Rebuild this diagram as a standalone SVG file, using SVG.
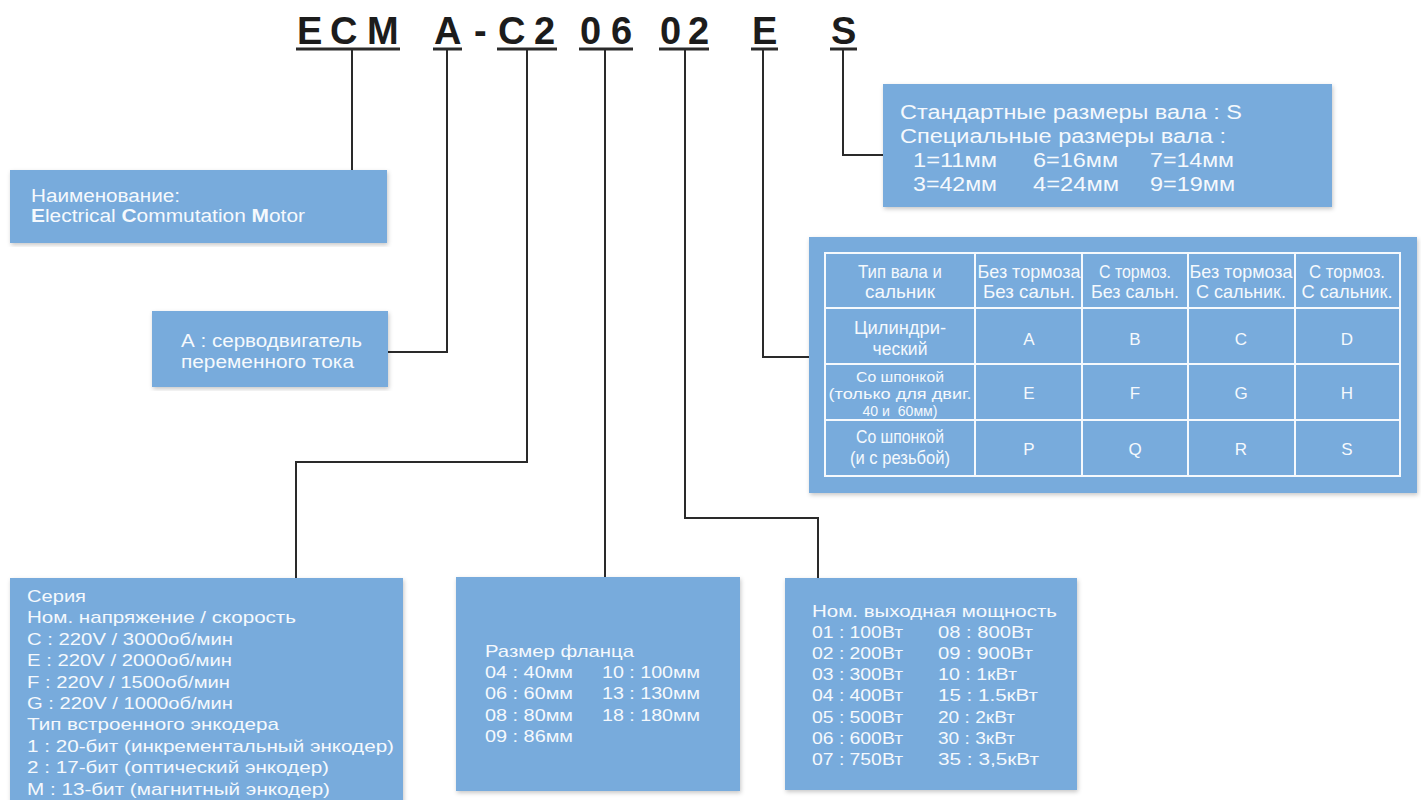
<svg xmlns="http://www.w3.org/2000/svg" width="1421" height="800" viewBox="0 0 1421 800">
<style>
.bg{fill:#ffffff}
.box{fill:#78abdc;filter:url(#sh)}
.t{font-family:"Liberation Sans",Arial,sans-serif;fill:#f5f9fd;font-size:17px}
.ts{font-size:20px}
.tb{font-size:18.5px}
.tr{font-size:15px}
.tl{font-size:17px}
.c{text-anchor:middle}
.code{font-family:"Liberation Sans",Arial,sans-serif;font-weight:bold;font-size:38px;fill:#1c1c1c}
.ul{stroke:#2a2a2a;stroke-width:3}
.con{fill:none;stroke:#2a2a2a;stroke-width:2}
.grid{fill:none;stroke:#f5f9fd;stroke-width:2}
</style>
<defs>
<filter id="sh" x="-5%" y="-5%" width="110%" height="110%">
<feDropShadow dx="1" dy="2" stdDeviation="2" flood-color="#000" flood-opacity="0.22"/>
</filter>
</defs>
<rect class="bg" width="1421" height="800"/>

<g id="code">
<text class="code" y="44"><tspan x="297">E</tspan><tspan x="330">C</tspan><tspan x="367">M</tspan><tspan x="434">A</tspan><tspan x="474">-</tspan><tspan x="498">C</tspan><tspan x="534">2</tspan><tspan x="580">0</tspan><tspan x="611">6</tspan><tspan x="660">0</tspan><tspan x="688">2</tspan><tspan x="752">E</tspan><tspan x="831">S</tspan></text>
<line class="ul" x1="296" y1="49" x2="400" y2="49"/>
<line class="ul" x1="433" y1="49" x2="462" y2="49"/>
<line class="ul" x1="497" y1="49" x2="557" y2="49"/>
<line class="ul" x1="579" y1="49" x2="633" y2="49"/>
<line class="ul" x1="659" y1="49" x2="709" y2="49"/>
<line class="ul" x1="751" y1="49" x2="778" y2="49"/>
<line class="ul" x1="830" y1="49" x2="857" y2="49"/>
</g>

<g id="connectors">
<path class="con" d="M352,50 V170"/>
<path class="con" d="M447,50 V352 H388"/>
<path class="con" d="M527,50 V462 H296 V578"/>
<path class="con" d="M605,50 V577"/>
<path class="con" d="M685,50 V518 H818 V578"/>
<path class="con" d="M763,50 V357 H809"/>
<path class="con" d="M843,50 V155 H883"/>
</g>

<g id="name">
<rect class="box" x="10" y="170" width="377" height="73"/>
<text class="t" x="31" y="202" style="font-size:18px" textLength="149" lengthAdjust="spacingAndGlyphs">Наименование:</text>
<text class="t" x="31" y="222" style="font-size:18px" textLength="274" lengthAdjust="spacingAndGlyphs"><tspan font-weight="bold">E</tspan>lectrical <tspan font-weight="bold">C</tspan>ommutation <tspan font-weight="bold">M</tspan>otor</text>
</g>

<g id="type">
<rect class="box" x="152" y="311" width="236" height="76"/>
<text class="t" x="181" y="347" style="font-size:18px" textLength="181" lengthAdjust="spacingAndGlyphs">А : серводвигатель</text>
<text class="t" x="181" y="368" style="font-size:18px" textLength="173" lengthAdjust="spacingAndGlyphs">переменного тока</text>
</g>

<g id="series">
<rect class="box" x="10" y="578" width="393" height="230"/>
<text class="t" x="27" y="602" textLength="59" lengthAdjust="spacingAndGlyphs">Серия</text>
<text class="t" x="27" y="623" textLength="269" lengthAdjust="spacingAndGlyphs">Ном. напряжение / скорость</text>
<text class="t" x="27" y="645" textLength="206" lengthAdjust="spacingAndGlyphs">C : 220V / 3000об/мин</text>
<text class="t" x="27" y="666" textLength="205" lengthAdjust="spacingAndGlyphs">E : 220V / 2000об/мин</text>
<text class="t" x="27" y="688" textLength="203" lengthAdjust="spacingAndGlyphs">F : 220V / 1500об/мин</text>
<text class="t" x="27" y="709" textLength="206" lengthAdjust="spacingAndGlyphs">G : 220V / 1000об/мин</text>
<text class="t" x="27" y="730" textLength="252" lengthAdjust="spacingAndGlyphs">Тип встроенного энкодера</text>
<text class="t" x="27" y="752" textLength="367" lengthAdjust="spacingAndGlyphs">1 : 20-бит (инкрементальный энкодер)</text>
<text class="t" x="27" y="773" textLength="302" lengthAdjust="spacingAndGlyphs">2 : 17-бит (оптический энкодер)</text>
<text class="t" x="27" y="795" textLength="303" lengthAdjust="spacingAndGlyphs">M : 13-бит (магнитный энкодер)</text>
</g>

<g id="flange">
<rect class="box" x="456" y="577" width="284" height="214"/>
<text class="t" x="485" y="657" textLength="149" lengthAdjust="spacingAndGlyphs">Размер фланца</text>
<text class="t" x="485" y="678" textLength="88" lengthAdjust="spacingAndGlyphs">04 : 40мм</text>
<text class="t" x="602" y="678" textLength="98" lengthAdjust="spacingAndGlyphs">10 : 100мм</text>
<text class="t" x="485" y="699" textLength="88" lengthAdjust="spacingAndGlyphs">06 : 60мм</text>
<text class="t" x="602" y="699" textLength="98" lengthAdjust="spacingAndGlyphs">13 : 130мм</text>
<text class="t" x="485" y="721" textLength="88" lengthAdjust="spacingAndGlyphs">08 : 80мм</text>
<text class="t" x="602" y="721" textLength="98" lengthAdjust="spacingAndGlyphs">18 : 180мм</text>
<text class="t" x="485" y="742" textLength="88" lengthAdjust="spacingAndGlyphs">09 : 86мм</text>
</g>

<g id="power">
<rect class="box" x="785" y="578" width="292" height="212"/>
<text class="t" x="812" y="617" textLength="245" lengthAdjust="spacingAndGlyphs">Ном. выходная мощность</text>
<text class="t" x="812" y="638" textLength="91" lengthAdjust="spacingAndGlyphs">01 : 100Вт</text>
<text class="t" x="938" y="638" textLength="95" lengthAdjust="spacingAndGlyphs">08 : 800Вт</text>
<text class="t" x="812" y="659" textLength="91" lengthAdjust="spacingAndGlyphs">02 : 200Вт</text>
<text class="t" x="938" y="659" textLength="95" lengthAdjust="spacingAndGlyphs">09 : 900Вт</text>
<text class="t" x="812" y="680" textLength="91" lengthAdjust="spacingAndGlyphs">03 : 300Вт</text>
<text class="t" x="938" y="680" textLength="79" lengthAdjust="spacingAndGlyphs">10 : 1кВт</text>
<text class="t" x="812" y="701" textLength="91" lengthAdjust="spacingAndGlyphs">04 : 400Вт</text>
<text class="t" x="938" y="701" textLength="100" lengthAdjust="spacingAndGlyphs">15 : 1.5кВт</text>
<text class="t" x="812" y="723" textLength="91" lengthAdjust="spacingAndGlyphs">05 : 500Вт</text>
<text class="t" x="938" y="723" textLength="77" lengthAdjust="spacingAndGlyphs">20 : 2кВт</text>
<text class="t" x="812" y="744" textLength="91" lengthAdjust="spacingAndGlyphs">06 : 600Вт</text>
<text class="t" x="938" y="744" textLength="77" lengthAdjust="spacingAndGlyphs">30 : 3кВт</text>
<text class="t" x="812" y="765" textLength="91" lengthAdjust="spacingAndGlyphs">07 : 750Вт</text>
<text class="t" x="938" y="765" textLength="101" lengthAdjust="spacingAndGlyphs">35 : 3,5кВт</text>
</g>

<g id="shaft">
<rect class="box" x="883" y="84" width="449" height="123"/>
<text class="t ts" x="900" y="119" textLength="342" lengthAdjust="spacingAndGlyphs">Стандартные размеры вала : S</text>
<text class="t ts" x="900" y="143" textLength="326" lengthAdjust="spacingAndGlyphs">Специальные размеры вала :</text>
<text class="t ts" x="913" y="167" textLength="84" lengthAdjust="spacingAndGlyphs">1=11мм</text>
<text class="t ts" x="1033" y="167" textLength="85" lengthAdjust="spacingAndGlyphs">6=16мм</text>
<text class="t ts" x="1150" y="167" textLength="84" lengthAdjust="spacingAndGlyphs">7=14мм</text>
<text class="t ts" x="913" y="191" textLength="84" lengthAdjust="spacingAndGlyphs">3=42мм</text>
<text class="t ts" x="1033" y="191" textLength="86" lengthAdjust="spacingAndGlyphs">4=24мм</text>
<text class="t ts" x="1150" y="191" textLength="85" lengthAdjust="spacingAndGlyphs">9=19мм</text>
</g>

<g id="shaft-table">
<rect class="box" x="809" y="237" width="608" height="256"/>
<rect class="grid" x="825" y="253" width="575" height="223"/>
<path class="grid" d="M975,253 V476 M1082,253 V476 M1188,253 V476 M1295,253 V476 M825,308 H1400 M825,364 H1400 M825,420 H1400"/>
<text class="t tb c" x="900" y="278" textLength="84" lengthAdjust="spacingAndGlyphs">Тип вала и</text>
<text class="t tb c" x="900" y="298" textLength="70" lengthAdjust="spacingAndGlyphs">сальник</text>
<text class="t tb c" x="1029" y="278" textLength="103" lengthAdjust="spacingAndGlyphs">Без тормоза</text>
<text class="t tb c" x="1029" y="298" textLength="92" lengthAdjust="spacingAndGlyphs">Без сальн.</text>
<text class="t tb c" x="1135" y="278" textLength="72" lengthAdjust="spacingAndGlyphs">С тормоз.</text>
<text class="t tb c" x="1135" y="298" textLength="88" lengthAdjust="spacingAndGlyphs">Без сальн.</text>
<text class="t tb c" x="1241" y="278" textLength="103" lengthAdjust="spacingAndGlyphs">Без тормоза</text>
<text class="t tb c" x="1241" y="298" textLength="90" lengthAdjust="spacingAndGlyphs">С сальник.</text>
<text class="t tb c" x="1347" y="278" textLength="76" lengthAdjust="spacingAndGlyphs">С тормоз.</text>
<text class="t tb c" x="1347" y="298" textLength="91" lengthAdjust="spacingAndGlyphs">С сальник.</text>
<text class="t tb c" x="900" y="334" textLength="92" lengthAdjust="spacingAndGlyphs">Цилиндри-</text>
<text class="t tb c" x="900" y="355" textLength="55" lengthAdjust="spacingAndGlyphs">ческий</text>
<text class="t tl c" x="1029" y="345">A</text>
<text class="t tl c" x="1135" y="345">B</text>
<text class="t tl c" x="1241" y="345">C</text>
<text class="t tl c" x="1347" y="345">D</text>
<text class="t tr c" x="900" y="382" textLength="88" lengthAdjust="spacingAndGlyphs">Со шпонкой</text>
<text class="t tr c" x="900" y="399" textLength="143" lengthAdjust="spacingAndGlyphs">(только для двиг.</text>
<text class="t tr c" x="900" y="416" textLength="75" lengthAdjust="spacingAndGlyphs" xml:space="preserve">40 и  60мм)</text>
<text class="t tl c" x="1029" y="399">E</text>
<text class="t tl c" x="1135" y="399">F</text>
<text class="t tl c" x="1241" y="399">G</text>
<text class="t tl c" x="1347" y="399">H</text>
<text class="t tb c" x="900" y="443" textLength="88" lengthAdjust="spacingAndGlyphs">Со шпонкой</text>
<text class="t tb c" x="900" y="464" textLength="100" lengthAdjust="spacingAndGlyphs">(и с резьбой)</text>
<text class="t tl c" x="1029" y="455">P</text>
<text class="t tl c" x="1135" y="455">Q</text>
<text class="t tl c" x="1241" y="455">R</text>
<text class="t tl c" x="1347" y="455">S</text>
</g>
</svg>
